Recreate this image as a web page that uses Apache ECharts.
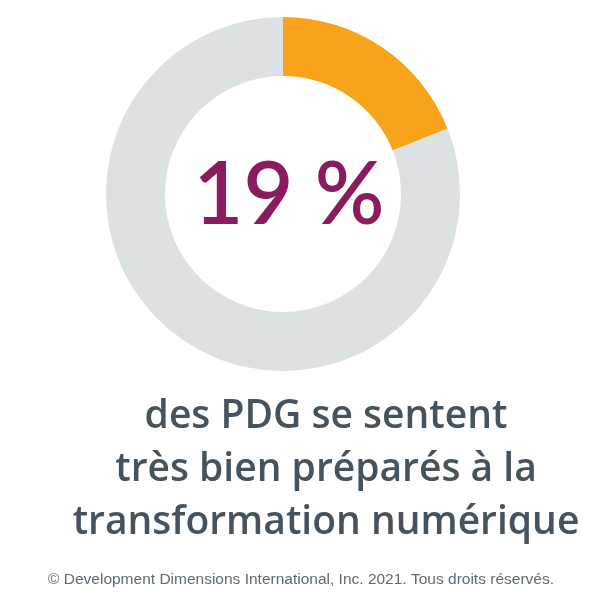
<!DOCTYPE html>
<html>
<head>
<meta charset="utf-8">
<script src="https://cdn.jsdelivr.net/npm/echarts@6/dist/echarts.min.js"></script>
<style>html,body{margin:0;background:#fff}#chart{width:600px;height:600px}</style>
</head>
<body>
<div id="chart"></div>
<script>
// données
var sliceNames = ['Très bien préparés', 'Autres'];
var sliceValues = [19, 81];
var sliceColors = ['#F7A31C', '#DCE1E3'];
var bigLabel = '19 %';
var captionLines = ['des PDG se sentent', 'très bien préparés à la', 'transformation numérique'];
var footer = '© Development Dimensions International, Inc. 2021. Tous droits réservés.';

var myChart = echarts.init(document.getElementById('chart'));
var option = {
    animation: false,
    series: [{
        type: 'pie',
        center: [283, 194],
        radius: [118, 177],
        startAngle: 90,
        clockwise: true,
        label: { show: false },
        labelLine: { show: false },
        emphasis: { disabled: true },
        data: sliceNames.map(function (n, i) {
            return { name: n, value: sliceValues[i], itemStyle: { color: sliceColors[i] } };
        })
    }],
    graphic: [
        {
            type: 'text', x: 289, y: 196,
            style: { text: bigLabel, fill: '#8A1B5E', align: 'center', verticalAlign: 'middle',
                     font: '600 86px Lato, "Open Sans", sans-serif' }
        },
        {
            type: 'text', x: 326, y: 390,
            style: {
                text: captionLines.join('\n'), fill: '#44535E', align: 'center',
                font: '600 39px "Open Sans", Lato, sans-serif', lineHeight: 53
            }
        },
        {
            type: 'text', x: 301, y: 572,
            style: { text: footer, fill: '#5E6B73', align: 'center',
                     font: '15.5px "Liberation Sans", Arial, sans-serif' }
        }
    ]
};
myChart.setOption(option);
</script>
</body>
</html>
